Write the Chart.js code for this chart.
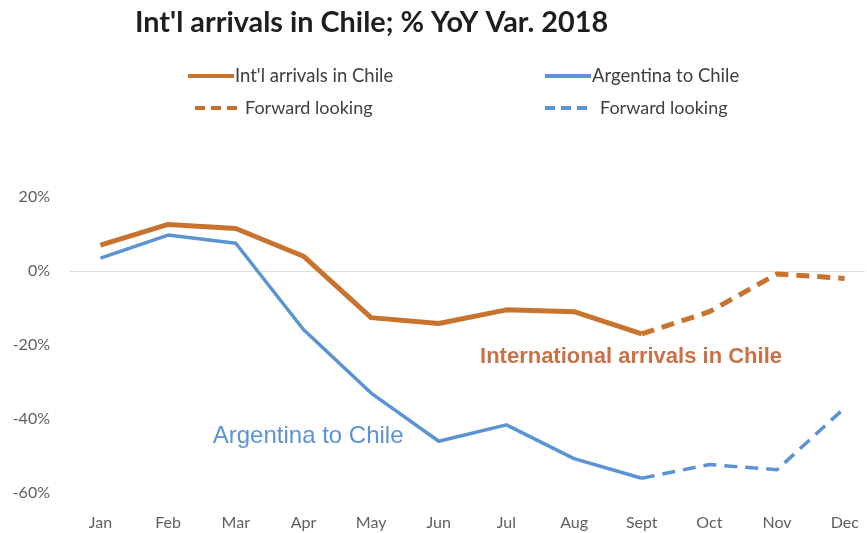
<!DOCTYPE html>
<html>
<head>
<meta charset="utf-8">
<script src="https://cdn.jsdelivr.net/npm/chart.js@4.4.0/dist/chart.umd.min.js"></script>
<style>
  html, body { margin: 0; padding: 0; background: #fff; }
  #wrap { width: 867px; height: 533px; }
</style>
</head>
<body>
<div id="wrap"><canvas id="chart"></canvas></div>
<script>
const months = ['Jan', 'Feb', 'Mar', 'Apr', 'May', 'Jun', 'Jul', 'Aug', 'Sept', 'Oct', 'Nov', 'Dec'];
// % YoY variation 2018; Jan-Sept actual, Sept-Dec forward looking
const intlArrivals = [7, 12.6, 11.5, 4, -12.6, -14.2, -10.5, -11, -17, -11, -0.8, -2];
const argentinaToChile = [3.5, 9.7, 7.5, -15.8, -33, -46, -41.6, -50.7, -56, -52.3, -53.7, -37];
const lastActual = 8; // Sept
const yTicks = [-60, -40, -20, 0, 20];

const ORANGE = '#c8742f';
const BLUE = '#5b93d3';

const dashAfterActual = ctx => ctx.p0DataIndex >= lastActual ? [13, 8] : undefined;

// legend entries, drawn by the overlay plugin
const legendItems = [
  { text: "Int'l arrivals in Chile", color: ORANGE, dash: [], x: 188, y: 76, gap: 47 },
  { text: 'Argentina to Chile', color: BLUE, dash: [], x: 545, y: 76, gap: 47 },
  { text: 'Forward looking', color: ORANGE, dash: [10, 6], x: 195, y: 108, gap: 50 },
  { text: 'Forward looking', color: BLUE, dash: [10, 6], x: 545, y: 108, gap: 55 }
];

const overlay = {
  id: 'overlay',
  afterDraw(chart) {
    const ctx = chart.ctx;
    const xs = chart.scales.x, ys = chart.scales.y;
    ctx.save();
    ctx.textBaseline = 'middle';
    ctx.textAlign = 'left';

    // title
    ctx.font = 'bold 28.8px Lato';
    ctx.fillStyle = '#1e1e1e';
    ctx.fillText("Int'l arrivals in Chile; % YoY Var. 2018", 135, 23);

    // legend
    legendItems.forEach(item => {
      ctx.strokeStyle = item.color;
      ctx.lineWidth = 4;
      ctx.setLineDash(item.dash);
      ctx.beginPath();
      ctx.moveTo(item.x, item.y);
      ctx.lineTo(item.x + 46, item.y);
      ctx.stroke();
      ctx.font = (item.dash.length ? 18 : 18.5) + 'px Lato';
      ctx.fillStyle = '#404040';
      ctx.fillText(item.text, item.x + item.gap, item.y);
    });
    ctx.setLineDash([]);

    // series annotations
    ctx.font = 'bold 22px "Liberation Sans"';
    ctx.fillStyle = '#c9724a';
    ctx.fillText('International arrivals in Chile', xs.getPixelForValue(5.61), ys.getPixelForValue(-23.3));
    ctx.font = '24px "Liberation Sans"';
    ctx.fillStyle = BLUE;
    ctx.fillText('Argentina to Chile', xs.getPixelForValue(1.66), ys.getPixelForValue(-44.8));
    ctx.restore();
  }
};

new Chart(document.getElementById('chart'), {
  type: 'line',
  data: {
    datasets: [
      {
        label: "Int'l arrivals in Chile",
        data: intlArrivals.map((v, i) => ({ x: i, y: v })),
        borderColor: ORANGE,
        borderWidth: 5,
        segment: { borderDash: dashAfterActual }
      },
      {
        label: 'Argentina to Chile',
        data: argentinaToChile.map((v, i) => ({ x: i, y: v })),
        borderColor: BLUE,
        borderWidth: 3.5,
        segment: { borderDash: dashAfterActual }
      }
    ]
  },
  options: {
    responsive: true,
    maintainAspectRatio: false,
    animation: false,
    layout: { padding: { top: 197, right: 2, bottom: 0, left: 0 } },
    elements: {
      point: { radius: 0 },
      line: { tension: 0, borderJoinStyle: 'round', borderCapStyle: 'butt' }
    },
    plugins: {
      legend: { display: false },
      tooltip: { enabled: false }
    },
    scales: {
      x: {
        type: 'linear',
        min: -0.45,
        max: 11.3,
        afterBuildTicks: s => { s.ticks = months.map((m, i) => ({ value: i })); },
        afterFit: s => { s.height = 40; s.paddingLeft = 0; s.paddingRight = 0; },
        grid: { display: false, drawTicks: false },
        border: { display: false },
        ticks: {
          padding: 20,
          color: '#5f5f5f',
          font: { family: 'Lato', size: 16 },
          maxRotation: 0,
          autoSkip: false,
          callback: v => months[v]
        }
      },
      y: {
        min: -60,
        max: 20,
        afterBuildTicks: s => { s.ticks = yTicks.map(v => ({ value: v })); },
        afterFit: s => { s.width = 70; },
        grid: {
          drawTicks: false,
          color: c => c.tick && c.tick.value === 0 ? '#dcdcdc' : 'rgba(0,0,0,0)'
        },
        border: { display: false },
        ticks: {
          padding: 20,
          color: '#5f5f5f',
          font: { family: 'Lato', size: 16 },
          callback: v => v + '%'
        }
      }
    }
  },
  plugins: [overlay]
});
</script>
</body>
</html>
